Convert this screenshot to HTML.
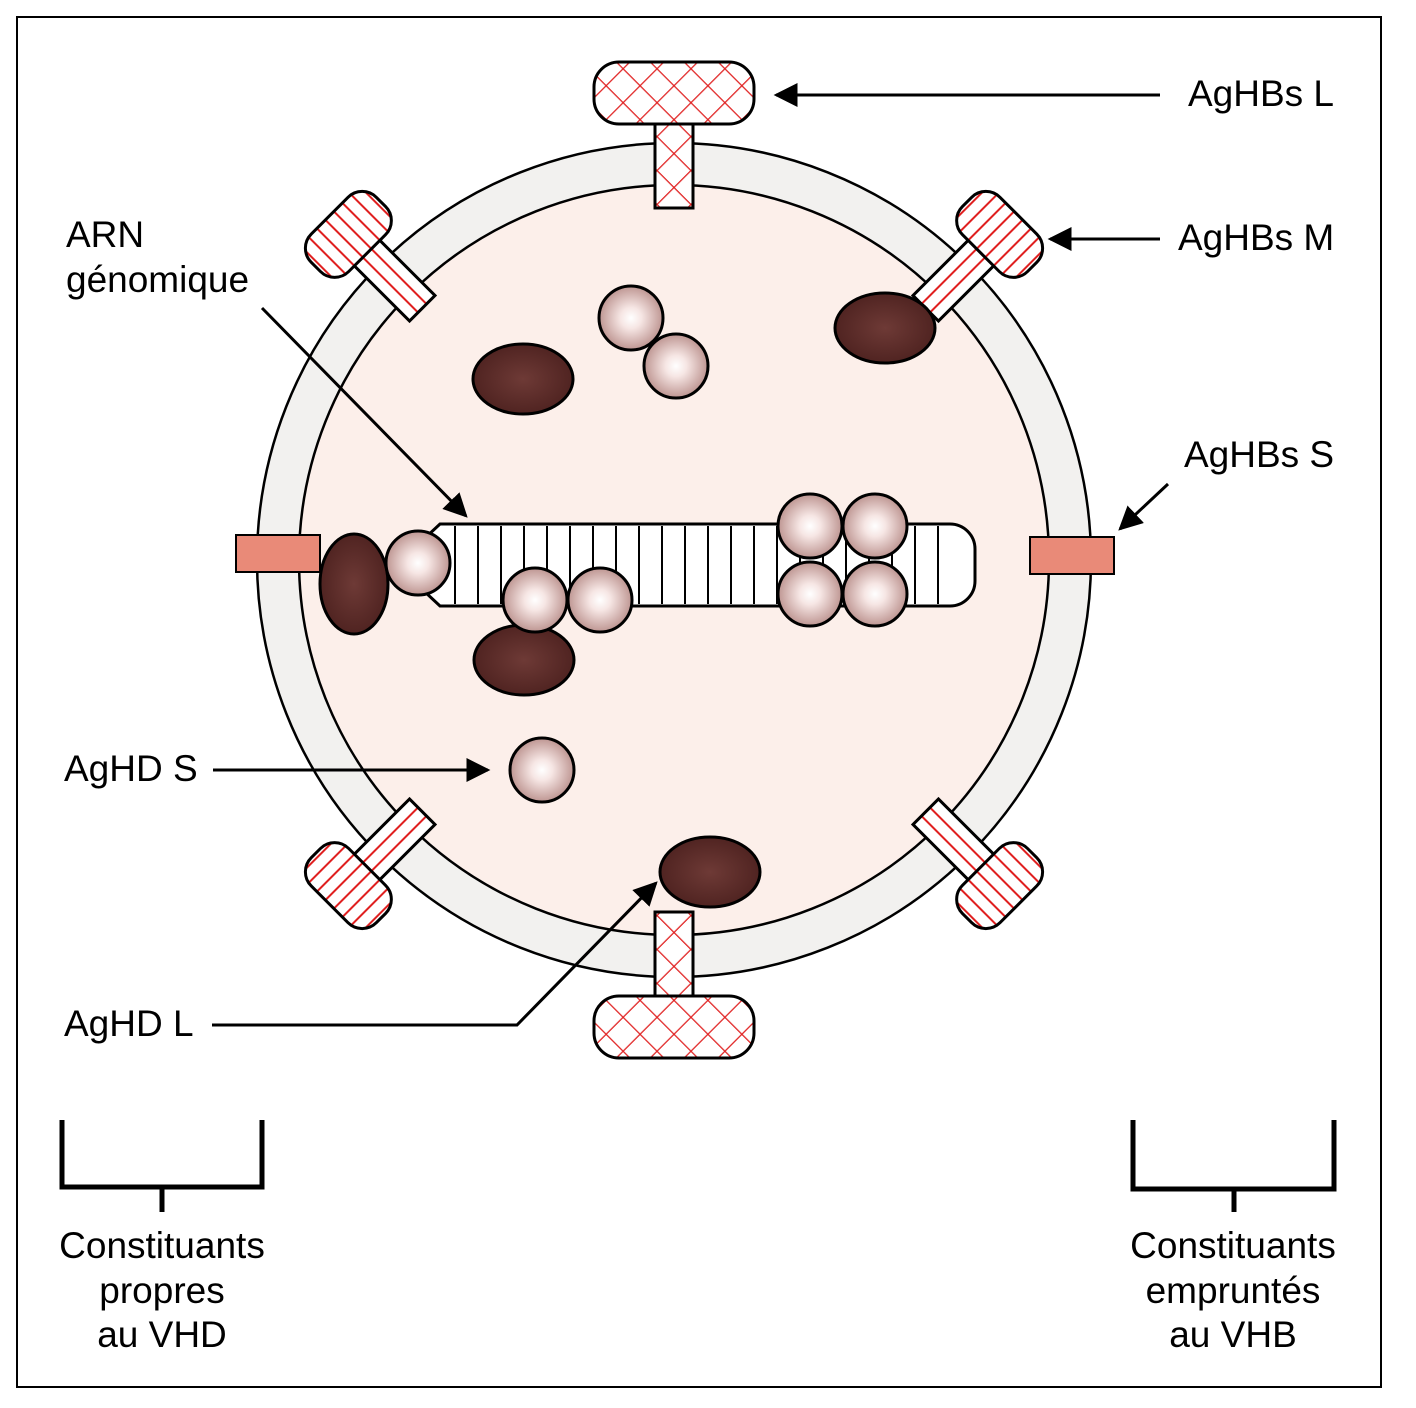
<!DOCTYPE html>
<html><head><style>html,body{margin:0;padding:0;background:#fff}svg{display:block}</style></head><body>
<svg width="1416" height="1408" viewBox="0 0 1416 1408" xmlns="http://www.w3.org/2000/svg" font-family="Liberation Sans, sans-serif">
<defs>
<pattern id="xh" width="24" height="24" patternUnits="userSpaceOnUse" patternTransform="rotate(45)">
<rect width="24" height="24" fill="#fff"/><path d="M0 0V24M0 0H24" stroke="#e02020" stroke-width="2.5"/></pattern>
<pattern id="vs" width="12" height="12" patternUnits="userSpaceOnUse"><rect width="12" height="12" fill="#fff"/><path d="M6 0V12" stroke="#e02020" stroke-width="2"/></pattern>
<radialGradient id="ball" cx="0.5" cy="0.5" r="0.55"><stop offset="0" stop-color="#fff"/><stop offset="0.3" stop-color="#f6e6e4"/><stop offset="1" stop-color="#b58985"/></radialGradient>
<radialGradient id="dk" cx="0.5" cy="0.5" r="0.6"><stop offset="0" stop-color="#6e3a36"/><stop offset="1" stop-color="#4a1f1d"/></radialGradient>
<marker id="ar" viewBox="0 0 10 10" refX="9" refY="5" markerWidth="8" markerHeight="8" orient="auto"><path d="M0 0L10 5L0 10z" fill="#000"/></marker>
<g id="M"><rect x="-18" y="-440" width="36" height="84" fill="url(#vs)" stroke="#000" stroke-width="3"/><rect x="-46" y="-487" width="92" height="53" rx="20" fill="url(#vs)" stroke="#000" stroke-width="3"/></g>
<g id="L"><rect x="-19" y="-437" width="38" height="85" fill="url(#xh)" stroke="#000" stroke-width="3"/><rect x="-80" y="-498" width="160" height="62" rx="25" fill="url(#xh)" stroke="#000" stroke-width="3"/></g>
</defs>
<rect x="17" y="17" width="1364" height="1370" fill="#fff" stroke="#000" stroke-width="2"/>
<circle cx="674" cy="560" r="417" fill="#f2f1ef" stroke="#000" stroke-width="2.5"/>
<circle cx="674" cy="560" r="375" fill="#fcefea" stroke="#000" stroke-width="2.5"/>
<g transform="translate(674,560)">
<use href="#L"/><use href="#L" transform="rotate(180)"/>
<use href="#M" transform="rotate(45)"/><use href="#M" transform="rotate(-45)"/>
<use href="#M" transform="rotate(135)"/><use href="#M" transform="rotate(-135)"/>
</g>
<rect x="236" y="535" width="84" height="37" fill="#e98a78" stroke="#000" stroke-width="2"/>
<rect x="1030" y="537" width="84" height="37" fill="#e98a78" stroke="#000" stroke-width="2"/>
<path d="M440 524H950a25 25 0 0 1 25 25V581a25 25 0 0 1 -25 25H440L425 592V538z" fill="#fff" stroke="#000" stroke-width="3"/>
<path d="M455 526V604M478 526V604M501 526V604M524 526V604M547 526V604M570 526V604M593 526V604M616 526V604M639 526V604M662 526V604M685 526V604M708 526V604M731 526V604M754 526V604M777 526V604M800 526V604M823 526V604M846 526V604M869 526V604M892 526V604M915 526V604M938 526V604" stroke="#000" stroke-width="2"/>
<g fill="url(#dk)" stroke="#000" stroke-width="3">
<ellipse cx="523" cy="379" rx="50" ry="35"/><ellipse cx="885" cy="328" rx="50" ry="35"/><ellipse cx="354" cy="584" rx="34" ry="50"/><ellipse cx="524" cy="660" rx="50" ry="35"/><ellipse cx="710" cy="872" rx="50" ry="35"/>
</g>
<g fill="url(#ball)" stroke="#000" stroke-width="3">
<circle cx="631" cy="318" r="32"/><circle cx="676" cy="366" r="32"/><circle cx="418" cy="563" r="32"/><circle cx="535" cy="600" r="32"/><circle cx="600" cy="600" r="32"/><circle cx="810" cy="526" r="32"/><circle cx="875" cy="526" r="32"/><circle cx="810" cy="594" r="32"/><circle cx="875" cy="594" r="32"/><circle cx="542" cy="770" r="32"/>
</g>
<g stroke="#000" stroke-width="3" fill="none" marker-end="url(#ar)">
<path d="M1160 95H776"/><path d="M1160 239H1050"/><path d="M1168 484L1120 529"/><path d="M262 308L466 516"/><path d="M213 770H488"/><path d="M212 1025H517L656 883"/>
</g>
<g font-size="37" fill="#000">
<text x="1188" y="106">AgHBs L</text><text x="1178" y="250">AgHBs M</text><text x="1184" y="467">AgHBs S</text>
<text x="66" y="247">ARN</text><text x="66" y="292">génomique</text>
<text x="64" y="781">AgHD S</text><text x="64" y="1036">AgHD L</text>
<g text-anchor="middle"><text x="162" y="1258">Constituants</text><text x="162" y="1303">propres</text><text x="162" y="1347">au VHD</text>
<text x="1233" y="1258">Constituants</text><text x="1233" y="1303">empruntés</text><text x="1233" y="1347">au VHB</text></g>
</g>
<g stroke="#000" stroke-width="5" fill="none">
<path d="M62 1120V1187H262V1120M162 1187V1212"/><path d="M1133 1120V1189H1334V1120M1234 1189V1212"/>
</g>
</svg>
</body></html>
